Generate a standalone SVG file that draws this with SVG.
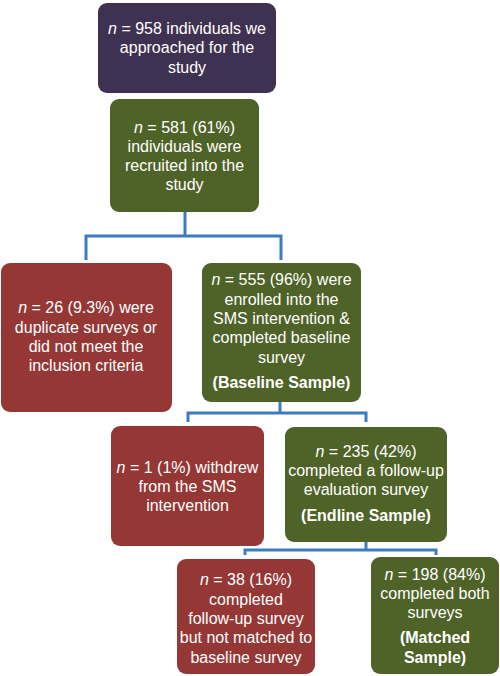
<svg xmlns="http://www.w3.org/2000/svg" width="500" height="676" viewBox="0 0 500 676">
<style>
.box{stroke:none}
.purple{fill:#3f3151}
.green{fill:#4f6228}
.red{fill:#953735}
text{font-family:"Liberation Sans",Arial,sans-serif;font-size:16px;fill:#ffffff;text-anchor:middle}
.b{font-weight:bold}
.i{font-style:italic}
.conn{fill:none;stroke:#3d7bbf;stroke-width:3;stroke-linejoin:miter}
</style>
<rect width="500" height="676" fill="#ffffff"/>
<g id="connectors">
<polyline class="conn" points="86,260 86,236 281,236 281,260"/>
<line class="conn" x1="185" y1="212" x2="185" y2="236"/>
<polyline class="conn" points="188,422 188,413 366,413 366,422"/>
<line class="conn" x1="280" y1="402" x2="280" y2="413"/>
<polyline class="conn" points="245,555 245,550 436,550 436,555"/>
<line class="conn" x1="366" y1="542" x2="366" y2="550"/>
</g>
<g id="n958">
<rect class="box purple" x="98" y="3" width="178" height="90" rx="9"/>
<text x="187" y="34"><tspan class="i">n</tspan> = 958 individuals we</text>
<text x="187" y="53">approached for the</text>
<text x="187" y="73">study</text>
</g>
<g id="n581">
<rect class="box green" x="110" y="99" width="149" height="113" rx="9"/>
<text x="184.5" y="133"><tspan class="i">n</tspan> = 581 (61%)</text>
<text x="184.5" y="152">individuals were</text>
<text x="184.5" y="171">recruited into the</text>
<text x="184.5" y="190">study</text>
</g>
<g id="n26">
<rect class="box red" x="1" y="263" width="171" height="149" rx="9"/>
<text x="86" y="313"><tspan class="i">n</tspan> = 26 (9.3%) were</text>
<text x="86" y="333">duplicate surveys or</text>
<text x="86" y="352">did not meet the</text>
<text x="86" y="371">inclusion criteria</text>
</g>
<g id="n555">
<rect class="box green" x="202" y="263" width="159" height="139" rx="9"/>
<text x="281.5" y="285"><tspan class="i">n</tspan> = 555 (96%) were</text>
<text x="281.5" y="305">enrolled into the</text>
<text x="281.5" y="324">SMS intervention &amp;</text>
<text x="281.5" y="343">completed baseline</text>
<text x="281.5" y="363">survey</text>
<text class="b" x="281.5" y="388">(Baseline Sample)</text>
</g>
<g id="n1">
<rect class="box red" x="111" y="426" width="153" height="120" rx="9"/>
<text x="187.5" y="473"><tspan class="i">n</tspan> = 1 (1%) withdrew</text>
<text x="187.5" y="492">from the SMS</text>
<text x="187.5" y="511">intervention</text>
</g>
<g id="n235">
<rect class="box green" x="285" y="427" width="162" height="115" rx="9"/>
<text x="366" y="457"><tspan class="i">n</tspan> = 235 (42%)</text>
<text x="366" y="476">completed a follow-up</text>
<text x="366" y="495">evaluation survey</text>
<text class="b" x="366" y="521">(Endline Sample)</text>
</g>
<g id="n38">
<rect class="box red" x="177" y="559" width="138" height="115" rx="9"/>
<text x="246" y="585"><tspan class="i">n</tspan> = 38 (16%)</text>
<text x="246" y="605">completed</text>
<text x="246" y="624">follow-up survey</text>
<text x="246" y="643">but not matched to</text>
<text x="246" y="663">baseline survey</text>
</g>
<g id="n198">
<rect class="box green" x="371" y="557" width="128" height="117" rx="9"/>
<text x="435" y="580"><tspan class="i">n</tspan> = 198 (84%)</text>
<text x="435" y="599">completed both</text>
<text x="435" y="618">surveys</text>
<text class="b" x="435" y="643">(Matched</text>
<text class="b" x="435" y="663">Sample)</text>
</g>
</svg>
